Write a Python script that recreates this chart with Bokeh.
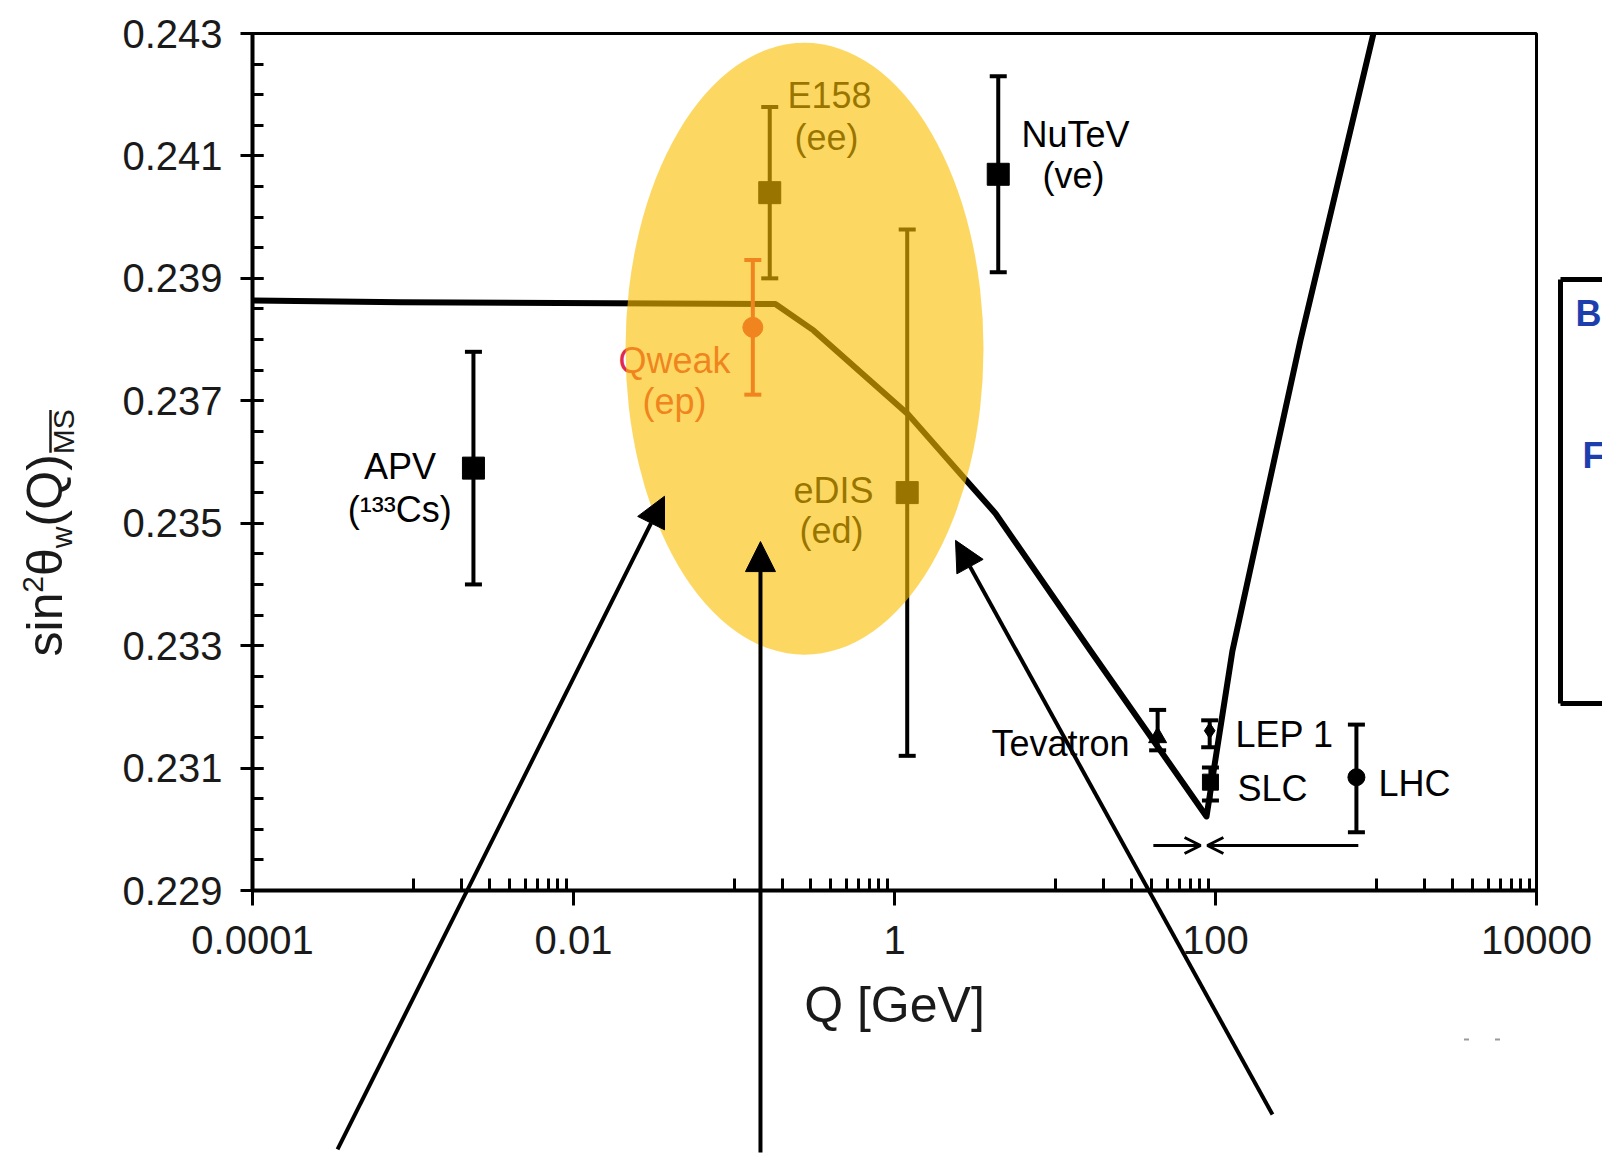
import math

from bokeh.plotting import figure
from bokeh.models import (FixedTicker, CustomJSTickFormatter, PrintfTickFormatter,
                          Arrow, NormalHead, OpenHead, Range1d)
from bokeh.core.properties import value
from bokeh.embed import file_html
from bokeh.resources import INLINE

FONT = "Liberation Sans"
INK = "#1a1a1a"

# ---- running of sin^2(theta_W) in the MS-bar scheme (schematic curve) ----
run_q = [1e-4, 8.4e-4, 0.181, 0.313, 1.205, 2.69, 4.26, 16.6, 87.9, 127.6, 338.5, 964.0]
run_s2w = [0.23864, 0.23861, 0.23858, 0.23815, 0.23679, 0.23575, 0.23516,
           0.23292, 0.23021, 0.23292, 0.23799, 0.24300]

# ---- measurements: Q [GeV], central value, lower / upper end of the error bar ----
exp_names = ["APV", "Qweak", "E158", "eDIS", "NuTeV", "Tevatron", "LEP 1", "SLC", "LHC"]
exp_q = [0.00238, 0.131, 0.167, 1.2, 4.43, 43.6, 92.0, 93.0, 755.0]
exp_s2w = [0.2359, 0.2382, 0.2404, 0.2355, 0.2407, 0.2315, 0.23161, 0.23077, 0.23085]
exp_low = [0.2340, 0.2371, 0.2390, 0.2312, 0.2391, 0.23129, 0.23134, 0.23047, 0.22995]
exp_high = [0.2378, 0.2393, 0.2418, 0.2398, 0.2423, 0.23195, 0.23178, 0.23101, 0.23171]
exp_marker = ["square", "circle", "square", "square", "square", "triangle", "diamond", "square", "circle"]
exp_size = [22, 20, 22, 22, 22, 18, 16, 16, 17]
exp_color = ["black", "#e12850", "black", "black", "black", "black", "black", "black", "black"]

# ---- point labels ----
lab_text = ["APV", "(¹³³Cs)", "E158", "(ee)", "NuTeV", "(ve)", "Qweak", "(ep)",
            "eDIS", "(ed)", "Tevatron", "LEP 1", "SLC", "LHC"]
lab_q = [8.30e-4, 8.27e-4, 0.2154, 0.238, 6.18, 8.36, 0.01907, 0.0269,
         0.2348, 0.256, 29.1, 133.2, 137.0, 1036.6]
lab_s2w = [0.23593, 0.23523, 0.241979, 0.241293, 0.241358, 0.240688, 0.237650, 0.236996,
           0.235542, 0.234873, 0.231409, 0.231556, 0.230674, 0.230756]
lab_align = ["center", "center", "left", "left", "left", "left", "left", "left",
             "left", "left", "right", "left", "left", "left"]
lab_color = ["black"] * 6 + ["#e12850", "#e12850"] + ["black"] * 6

# ---- axes ----
x_major = [1e-4, 1e-2, 1.0, 1e2, 1e4]
x_minor = [m * 10.0 ** e for e in (-3, -1, 1, 3) for m in range(1, 10)]
y_major = [0.229, 0.231, 0.233, 0.235, 0.237, 0.239, 0.241, 0.243]
y_minor = [round(0.229 + 0.0005 * i, 4) for i in range(29)]

# frame geometry (pixels) of the main panel
W, H = 1602, 1155
FL, FR, FT, FB = 252, 66, 33, 265
FW, FH = W - FL - FR, H - FT - FB

p = figure(frame_width=FW, frame_height=FH,
           min_border_left=FL, min_border_right=FR, min_border_top=FT, min_border_bottom=FB,
           x_axis_type="log", x_range=(1e-4, 1e4), y_range=(0.229, 0.243),
           output_backend="svg", toolbar_location=None)
p.grid.visible = False
p.background_fill_color = "white"
p.border_fill_color = "white"
p.outline_line_color = "black"
p.outline_line_width = 3

p.xaxis.ticker = FixedTicker(ticks=x_major, minor_ticks=x_minor)
p.xaxis.formatter = CustomJSTickFormatter(code="return tick >= 1 ? tick.toFixed(0) : tick.toString();")
p.yaxis.ticker = FixedTicker(ticks=y_major, minor_ticks=y_minor)
p.yaxis.formatter = PrintfTickFormatter(format="%.3f")

for ax in (p.xaxis, p.yaxis):
    ax.axis_line_width = 4
    ax.axis_line_color = "black"
    ax.major_tick_line_width = 3
    ax.minor_tick_line_width = 3
    ax.major_tick_line_color = "black"
    ax.minor_tick_line_color = "black"
    ax.major_label_text_font = FONT
    ax.major_label_text_font_size = "40px"
    ax.major_label_text_color = INK

p.xaxis.major_tick_in = 0
p.xaxis.major_tick_out = 15
p.xaxis.minor_tick_in = 12
p.xaxis.minor_tick_out = 0
p.xaxis.major_label_standoff = 20
p.xaxis.axis_label = "Q [GeV]"
p.xaxis.axis_label_text_font = FONT
p.xaxis.axis_label_text_font_size = "50px"
p.xaxis.axis_label_text_font_style = "normal"
p.xaxis.axis_label_text_color = INK
p.xaxis.axis_label_standoff = 20

p.yaxis.major_tick_in = 11
p.yaxis.major_tick_out = 12
p.yaxis.minor_tick_in = 11
p.yaxis.minor_tick_out = 0
p.yaxis.major_label_standoff = 18

# ---- running curve ----
p.line(run_q, run_s2w, line_color="black", line_width=6, line_join="round")

# ---- error bars, caps and markers ----
p.segment(x0=exp_q, y0=exp_low, x1=exp_q, y1=exp_high, line_color=exp_color, line_width=4)
p.scatter(exp_q, exp_low, marker="dash", size=17, line_width=4, line_color=exp_color)
p.scatter(exp_q, exp_high, marker="dash", size=17, line_width=4, line_color=exp_color)
p.scatter(exp_q, exp_s2w, marker=exp_marker, size=exp_size,
          fill_color=exp_color, line_color=exp_color)

# ---- labels next to the measurements ----
p.text(x=lab_q, y=lab_s2w, text=lab_text, text_align=lab_align, text_baseline="alphabetic",
       text_font=value(FONT), text_font_size="36px", text_color=lab_color)

# ---- range arrows under the Z-pole / LHC points ----
p.add_layout(Arrow(end=OpenHead(size=16, line_width=3), x_start=41.0, y_start=0.229735,
                   x_end=80.7, y_end=0.229735, line_width=3))
p.add_layout(Arrow(end=OpenHead(size=16, line_width=3), x_start=776.0, y_start=0.229735,
                   x_end=89.0, y_end=0.229735, line_width=3))

# ---- highlighted low-energy region ----
p.ellipse(x=[0.275], y=[0.23785], width=[358], height=[612],
          width_units="screen", height_units="screen",
          fill_color="#fac000", fill_alpha=0.61, line_color=None)

# ---- transparent overlay spanning the whole page, sharing the main data mapping ----
decade_px = FW / 8.0
s2w_per_px = 0.014 / FH
ov = figure(width=W, height=H, x_axis_type="log",
            x_range=Range1d(10 ** (-4 - FL / decade_px), 10 ** (-4 + (W - FL) / decade_px)),
            y_range=Range1d(0.229 - FB * s2w_per_px, 0.243 + FT * s2w_per_px),
            min_border=0, x_axis_location=None, y_axis_location=None,
            output_backend="svg", toolbar_location=None)
ov.grid.visible = False
ov.outline_line_color = None
ov.background_fill_alpha = 0
ov.border_fill_alpha = 0
ov.styles = {"position": "absolute", "left": "0px", "top": "0px"}

# pointer arrows into the highlighted region
for xs, ys, xe, ye in [(3.386e-4, 0.22477, 0.0369, 0.23544),
                       (0.1462, 0.22472, 0.1462, 0.23470),
                       (226.5, 0.22534, 2.40, 0.23472)]:
    ov.add_layout(Arrow(end=NormalHead(size=30, fill_color="black", line_color="black"),
                        x_start=xs, y_start=ys, x_end=xe, y_end=ye,
                        line_width=4, line_color="black"))

# y-axis title built from pieces: sin^2 theta_w (Q) with an MS-bar subscript
ylab_text = ["sin", "2", "θ", "w", "(Q)", "MS"]
ylab_x = [5.059e-6, 4.320e-6, 5.059e-6, 6.456e-6, 5.059e-6, 6.644e-6]
ylab_y = [0.232823, 0.233866, 0.234139, 0.234593, 0.234948, 0.236127]
ylab_size = ["50px", "30px", "50px", "30px", "50px", "30px"]
for t, lx, ly, fs in zip(ylab_text, ylab_x, ylab_y, ylab_size):
    ov.text(x=[lx], y=[ly], text=[t], angle=math.pi / 2, text_align="left",
            text_baseline="alphabetic", text_font=value(FONT), text_font_size=fs,
            text_color=INK)
ov.segment(x0=[5.513e-6], y0=[0.236150], x1=[5.513e-6], y1=[0.236850],
           line_width=2.5, line_color=INK)

# edge of the neighbouring panel on the right
box_x0, box_x1 = 1.411e4, 5.0e4
box_top, box_bot = 0.238981, 0.232055
ov.segment(x0=[box_x0, box_x0, box_x0], y0=[box_top, box_top, box_bot],
           x1=[box_x0, box_x1, box_x1], y1=[box_bot, box_top, box_bot],
           line_width=5, line_color="black")
ov.text(x=[1.75e4, 1.934e4], y=[0.238418, 0.236114], text=["Bo", "F"],
        text_font=value(FONT), text_font_size="36px", text_font_style="bold",
        text_color="#1d3fae", text_baseline="alphabetic")
ov.scatter(x=[3664.0, 5715.0], y=[0.226566, 0.226566], marker="dash", size=5,
           line_width=2, line_color="#9a9a9a")

open("out.html", "w").write(file_html([p, ov], INLINE))
